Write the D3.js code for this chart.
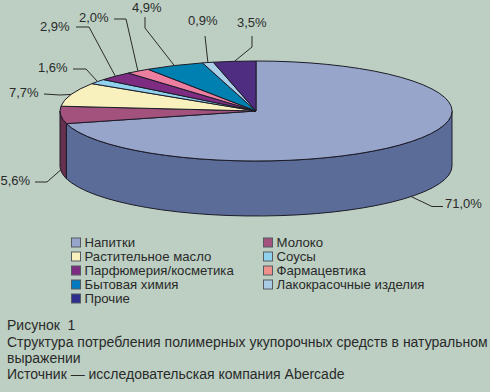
<!DOCTYPE html>
<html>
<head>
<meta charset="utf-8">
<script src="https://cdn.jsdelivr.net/npm/d3@7"></script>
<style>
  html, body { margin: 0; padding: 0; background: #bccfc2; }
  svg { display: block; }
  text { font-family: "Liberation Sans", sans-serif; fill: #2a2a2a; }
</style>
</head>
<body>
<svg id="chart"></svg>
<script>
let categories = ["Напитки", "Молоко", "Растительное масло", "Соусы", "Парфюмерия/косметика",
  "Фармацевтика", "Бытовая химия", "Лакокрасочные изделия", "Прочие"];
let values = [71.0, 5.6, 7.7, 1.6, 2.9, 2.0, 4.9, 0.9, 3.5];
let valueLabels = ["71,0%", "5,6%", "7,7%", "1,6%", "2,9%", "2,0%", "4,9%", "0,9%", "3,5%"];
let pieColors = ["#98a5cb", "#a2527c", "#f9f1bd", "#90d2ee", "#7e2c82", "#ec7ea0", "#0080b0", "#a9d0e8", "#4f2d80"];
let wallColors = ["#5c6c99", "#66304f"];
let legendColors = ["#98a5cb", "#a2527c", "#f9f1bd", "#90d2ee", "#7e2c82", "#f0908a", "#0079bf", "#a9cbe4", "#2f2e8c"];
let captionLines = ["Рисунок\u00a0\u00a01",
  "Структура потребления полимерных укупорочных средств в натуральном",
  "выражении",
  "Источник — исследовательская компания Abercade"];

let width = 490, height = 392;
let cx = 256, cy = 111, rx = 196, ry = 50, depth = 55;

let svg = d3.select("#chart").attr("width", width).attr("height", height);

let slices = d3.pie().sort(null).value(d => d)(values);
let arc = d3.arc().innerRadius(0).outerRadius(1);
let px = a => cx + rx * Math.sin(a);
let py = a => cy - ry * Math.cos(a);

//Side wall, only the part of a slice that faces the viewer
function wallPath(a0, a1) {
  let from = Math.max(a0, Math.PI / 2), to = Math.min(a1, 3 * Math.PI / 2);
  if (to <= from) return null;
  let p = d3.path();
  p.moveTo(px(from), py(from));
  p.lineTo(px(from), py(from) + depth);
  let bottom = `A${rx},${ry} 0 0 1 ${px(to)},${py(to) + depth}`;
  let top = `A${rx},${ry} 0 0 0 ${px(from)},${py(from)}`;
  return `${p} ${bottom} L${px(to)},${py(to)} ${top} Z`;
}

let pie = svg.append("g");
slices.forEach((s, i) => {
  let d = wallPath(s.startAngle, s.endAngle);
  if (d) pie.append("path")
    .attr("d", d)
    .attr("fill", wallColors[i])
    .attr("stroke", "#1c1c28")
    .attr("stroke-width", 1)
    .attr("stroke-linejoin", "round");
});

pie.selectAll(".slice")
  .data(slices)
  .join("path")
  .attr("class", "slice")
  .attr("d", arc)
  .attr("transform", `translate(${cx},${cy}) scale(${rx},${ry})`)
  .attr("fill", (d, i) => pieColors[i])
  .attr("stroke", "#1c1c28")
  .attr("stroke-width", 1)
  .attr("vector-effect", "non-scaling-stroke");

//Label layout: text anchor point, leader start and elbow, does it end on the lower rim
let labelLayout = [
  {tx: 445, ty: 208, start: [443, 206.5], elbow: [432, 206.5], low: true},
  {tx: 0.5, ty: 185, start: [35, 182], elbow: [47, 182], low: true},
  {tx: 9, ty: 97, start: [44, 94], elbow: [60, 95], low: false},
  {tx: 38, ty: 72, start: [73, 69], elbow: [86, 69], low: false},
  {tx: 40, ty: 31, start: [76, 27], elbow: [89, 27], low: false},
  {tx: 79, ty: 22, start: [114, 19], elbow: [126, 19], low: false},
  {tx: 132, ty: 11.5, start: [145, 17], elbow: [145, 28], low: false},
  {tx: 188, ty: 25, start: [205, 36], elbow: [205, 36], low: false},
  {tx: 237, ty: 27, start: [252, 36], elbow: [252, 47], low: false}
];

let line = d3.line();
slices.forEach((s, i) => {
  let l = labelLayout[i];
  let mid = (s.startAngle + s.endAngle) / 2;
  let end = [px(mid), py(mid) + (l.low ? depth : 0)];
  svg.append("path")
    .attr("d", line([l.start, l.elbow, end]))
    .attr("fill", "none")
    .attr("stroke", "#2a2a2a")
    .attr("stroke-width", 1);
  svg.append("text")
    .attr("x", l.tx)
    .attr("y", l.ty)
    .attr("font-size", 13)
    .text(valueLabels[i]);
});

//Legend, two columns filled row by row
let legendX = d3.scaleOrdinal().domain([0, 1]).range([71, 263]);
let legendY = d3.scaleLinear().domain([0, 4]).range([242, 298]);
let legend = svg.append("g");
categories.forEach((c, i) => {
  let col = i % 2, row = Math.floor(i / 2);
  legend.append("rect")
    .attr("x", legendX(col) + 0.5)
    .attr("y", legendY(row) - 4)
    .attr("width", 9)
    .attr("height", 9)
    .attr("fill", legendColors[i])
    .attr("stroke", "#555a60")
    .attr("stroke-width", 1);
  legend.append("text")
    .attr("x", legendX(col) + 13.5)
    .attr("y", legendY(row) + 4.5)
    .attr("font-size", 13.2)
    .text(c);
});

let captionY = [330, 347, 363, 379];
captionLines.forEach((t, i) => {
  svg.append("text")
    .attr("x", 7)
    .attr("y", captionY[i])
    .attr("font-size", 14)
    .text(t);
});
</script>
</body>
</html>
